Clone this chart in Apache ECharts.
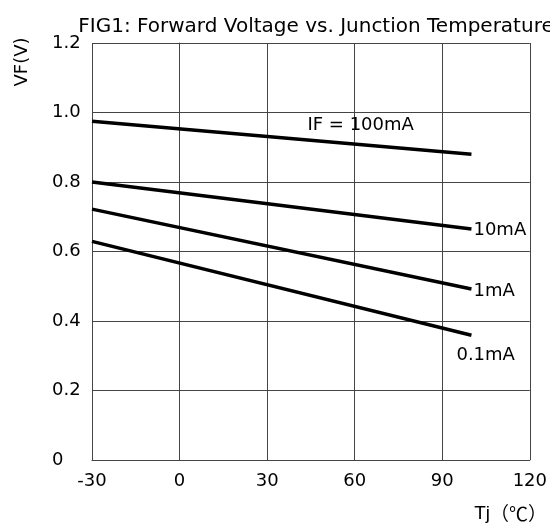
<!DOCTYPE html>
<html>
<head>
<meta charset="utf-8">
<script src="https://cdn.jsdelivr.net/npm/echarts@6/dist/echarts.min.js"></script>
<style>
html,body{margin:0;padding:0;background:#fff;}
#chart{width:550px;height:526px;}
</style>
</head>
<body>
<div id="chart"></div>
<script>
var titleText = 'FIG1: Forward Voltage vs. Junction Temperature';
var xTicks = [-30, 0, 30, 60, 90, 120];
var yTicks = [0, 0.2, 0.4, 0.6, 0.8, 1.0, 1.2];
var temps = [-30, 100];
var seriesNames = ['IF = 100mA', '10mA', '1mA', '0.1mA'];
var vf100mA = [0.975, 0.880];
var vf10mA = [0.800, 0.665];
var vf1mA = [0.722, 0.492];
var vf01mA = [0.629, 0.359];

var FONT = 'DejaVu Sans';
var chart = echarts.init(document.getElementById('chart'));

function pairs(vals) {
  return temps.map(function (t, i) { return [t, vals[i]]; });
}
var labelOffsets = [[-165, -29], [1, 1], [1, 2.5], [-16, 20]];
var allVals = [vf100mA, vf10mA, vf1mA, vf01mA];

var series = allVals.map(function (vals, i) {
  return {
    name: seriesNames[i],
    type: 'line',
    data: pairs(vals),
    symbol: 'none',
    silent: true,
    animation: false,
    lineStyle: { color: '#000', width: 3.5 },
    endLabel: {
      show: true,
      formatter: seriesNames[i],
      color: '#000',
      fontFamily: FONT,
      fontSize: 18,
      distance: 1,
      offset: labelOffsets[i]
    }
  };
});

chart.setOption({
  animation: false,
  title: {
    text: titleText,
    left: 311,
    top: 11,
    textAlign: 'center',
    textStyle: { fontFamily: FONT, fontSize: 20, fontWeight: 'normal', color: '#000', lineHeight: 22 }
  },
  grid: { left: 92, right: 14, top: 43, bottom: 66, show: false },
  xAxis: {
    type: 'value',
    min: xTicks[0],
    max: xTicks[xTicks.length - 1],
    interval: 30,
    axisLine: { show: true, lineStyle: { color: '#444', width: 1 } },
    axisTick: { show: false },
    splitLine: { show: true, lineStyle: { color: '#444', width: 1 } },
    axisLabel: { color: '#000', fontFamily: FONT, fontSize: 18, margin: 12 }
  },
  yAxis: {
    type: 'value',
    min: yTicks[0],
    max: yTicks[yTicks.length - 1],
    interval: 0.2,
    axisLine: { show: true, lineStyle: { color: '#444', width: 1 } },
    axisTick: { show: false },
    splitLine: { show: true, lineStyle: { color: '#444', width: 1 } },
    axisLabel: {
      color: '#000', fontFamily: FONT, fontSize: 18, margin: 40, align: 'left',
      formatter: function (v) { return v === 0 ? '0' : v.toFixed(1); }
    }
  },
  graphic: [{
    type: 'text',
    x: 22, y: 62,
    rotation: Math.PI / 2,
    style: {
      text: 'VF(V)',
      fontFamily: FONT, fontSize: 18, fill: '#000',
      align: 'center', verticalAlign: 'middle'
    }
  }, {
    type: 'text',
    x: 547, y: 514,
    style: {
      text: '{a|Tj}{b|（℃）}',
      align: 'right', verticalAlign: 'middle',
      rich: {
        a: { fontFamily: 'Liberation Sans', fontSize: 19, fill: '#000', color: '#000' },
        b: { fontFamily: 'Noto Sans CJK SC', fontSize: 19, fill: '#000', color: '#000' }
      }
    }
  }],
  series: series
});
</script>
</body>
</html>
